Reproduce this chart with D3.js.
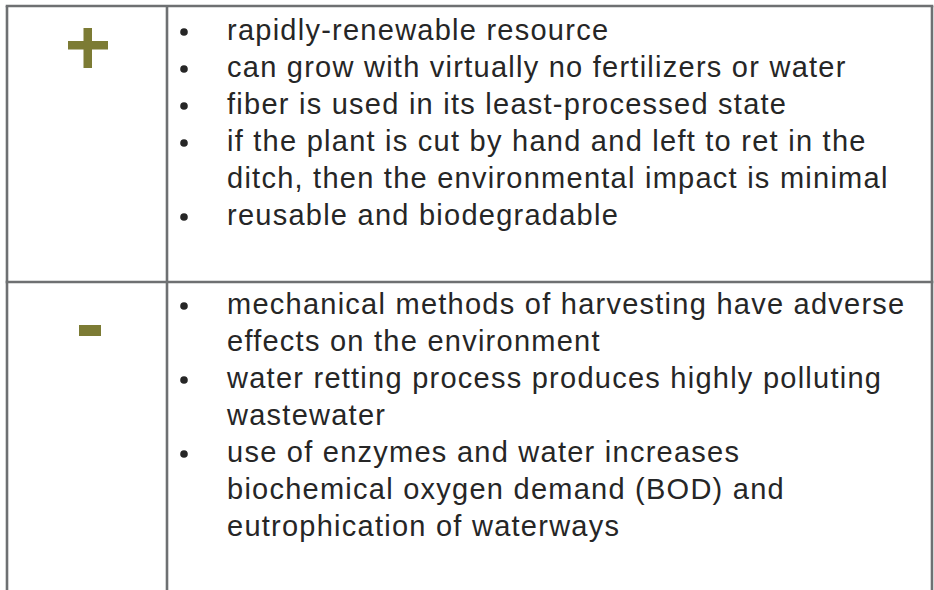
<!DOCTYPE html>
<html lang="en">

<head>
    <script src="https://d3js.org/d3.v7.min.js"></script>
    <style>
        body {
            margin: 0;
            background: white;
        }

        .cell text {
            font-family: "Liberation Sans", Arial, sans-serif;
            font-size: 29px;
            letter-spacing: 1.25px;
            fill: #262626;
        }
    </style>
</head>

<body>

    <svg id="table" width="934" height="590"></svg>

    <script>
        // table content, one wrapped line per string (wraps as in the slide)
        const signs = ["+", "-"];
        const plusItems = [
            ["rapidly-renewable resource"],
            ["can grow with virtually no fertilizers or water"],
            ["fiber is used in its least-processed state"],
            ["if the plant is cut by hand and left to ret in the",
             "ditch, then the environmental impact is minimal"],
            ["reusable and biodegradable"]
        ];
        const minusItems = [
            ["mechanical methods of harvesting have adverse",
             "effects on the environment"],
            ["water retting process produces highly polluting",
             "wastewater"],
            ["use of enzymes and water increases",
             "biochemical oxygen demand (BOD) and",
             "eutrophication of waterways"]
        ];

        const svg = d3.select("svg#table");
        const width = +svg.attr("width");
        const height = +svg.attr("height");

        const olive = "#7c7b34";
        const gridColor = "#6e7072";

        const colLeft = 7, colMid = 167, colRight = 932;
        const rowTop = 6, rowMid = 282;
        const pitch = 37;

        // flatten each row to lines so every line gets an index
        function toLines(items) {
            let out = [];
            items.forEach(item => {
                item.forEach((t, i) => out.push({ text: t, first: i == 0 }));
            });
            return out;
        }

        const rows = [
            { sign: signs[0], lines: toLines(plusItems), top: rowTop, base: 39.5 },
            { sign: signs[1], lines: toLines(minusItems), top: rowMid, base: 313.5 }
        ];

        rows.forEach(row => {
            const y = d3.scaleLinear()
                .domain([0, 1])
                .range([row.base, row.base + pitch]);

            const g = svg.append("g").attr("class", "cell");

            g.selectAll("circle.bullet")
                .data(row.lines.filter(d => d.first))
                .join("circle")
                .attr("class", "bullet")
                .attr("cx", 184)
                .attr("cy", d => y(row.lines.indexOf(d)) - 7.5)
                .attr("r", 3.8)
                .attr("fill", "#262626");

            g.selectAll("text.line")
                .data(row.lines)
                .join("text")
                .attr("class", "line")
                .attr("x", 227)
                .attr("y", (d, i) => y(i))
                .text(d => d.text);
        });

        // plus sign
        svg.append("rect")
            .attr("x", 68).attr("y", 41)
            .attr("width", 40).attr("height", 8.5)
            .attr("fill", olive);
        svg.append("rect")
            .attr("x", 83.5).attr("y", 28)
            .attr("width", 8.5).attr("height", 40)
            .attr("fill", olive);

        // minus sign
        svg.append("rect")
            .attr("x", 79).attr("y", 325)
            .attr("width", 22).attr("height", 11)
            .attr("fill", olive);

        // grid lines
        const grid = svg.append("g")
            .attr("stroke", gridColor)
            .attr("stroke-width", 2.6);

        [colLeft, colMid, colRight].forEach(x => {
            grid.append("line")
                .attr("x1", x).attr("x2", x)
                .attr("y1", rowTop).attr("y2", height);
        });
        [rowTop, rowMid].forEach(yy => {
            grid.append("line")
                .attr("x1", colLeft - 1.3).attr("x2", colRight + 1.3)
                .attr("y1", yy).attr("y2", yy);
        });
    </script>

</body>

</html>
